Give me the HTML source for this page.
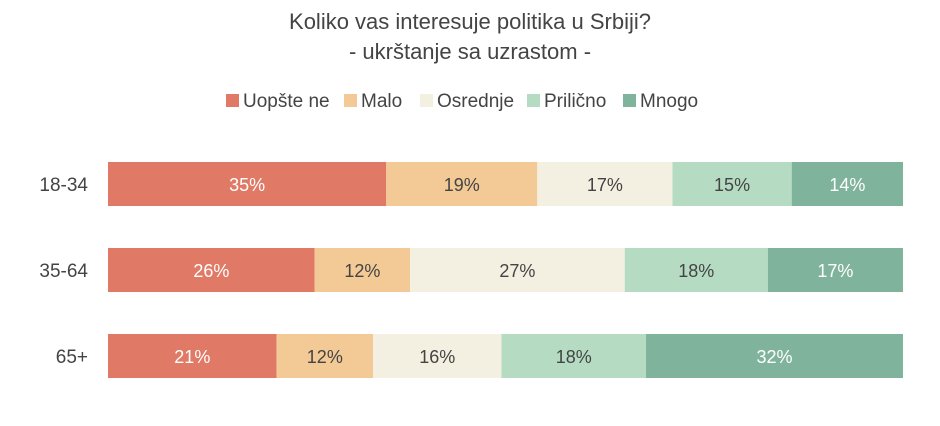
<!DOCTYPE html>
<html><head><meta charset="utf-8"><style>
body{margin:0;background:#fff;font-family:"Liberation Sans","DejaVu Sans",sans-serif;}
svg text{font-family:"Liberation Sans","DejaVu Sans",sans-serif;}
</style></head><body>
<svg id="chart" width="940" height="421" xmlns="http://www.w3.org/2000/svg">
<text x="470" y="29" text-anchor="middle" font-size="22" fill="#444">Koliko vas interesuje politika u Srbiji?</text>
<text x="470" y="59" text-anchor="middle" font-size="22" fill="#444">- ukrštanje sa uzrastom -</text>
<g id="legend"></g>
<g id="bars"></g>
</svg>
<script>
const categories=["18-34","35-64","65+"];
const seriesNames=["Uopšte ne","Malo","Osrednje","Priličnо".replace("о","o"),"Mnogo"];
const uopsteNe=[35,26,21];
const malo=[19,12,12];
const osrednje=[17,27,16];
const prilicno=[15,18,18];
const mnogo=[14,17,32];
const series=[uopsteNe,malo,osrednje,prilicno,mnogo];
const colors=["#e07a66","#f3ca96","#f4f0e1","#b5dcc3","#80b39c"];
const textColors=["#fff","#444","#444","#444","#fff"];
const NS="http://www.w3.org/2000/svg";
const x0=108,x1=903,rowY0=162,rowStep=86,barH=44;
function yOf(i){return rowY0+i*rowStep;}
const legend=document.getElementById('legend');
const legX=[226,344,420,527,623];
seriesNames.forEach((n,k)=>{
 const r=document.createElementNS(NS,'rect');
 r.setAttribute('x',legX[k]);r.setAttribute('y',94);r.setAttribute('width',13);r.setAttribute('height',13);r.setAttribute('fill',colors[k]);
 
 
 legend.appendChild(r);
 const t=document.createElementNS(NS,'text');
 t.setAttribute('x',legX[k]+17);t.setAttribute('y',107);t.setAttribute('font-size','19');t.setAttribute('fill','#444');
 t.textContent=n;
 
 
 legend.appendChild(t);
});
const bars=document.getElementById('bars');
categories.forEach((c,i)=>{
 const y=yOf(i);
 const lab=document.createElementNS(NS,'text');
 lab.setAttribute('x',88);lab.setAttribute('y',y+barH/2+7);lab.setAttribute('text-anchor','end');lab.setAttribute('font-size','19');lab.setAttribute('fill','#444');
 lab.textContent=c;
 
 
 bars.appendChild(lab);
 let total=0;series.forEach(s=>total+=s[i]);
 let acc=0;
 series.forEach((s,k)=>{
  const xa=x0+(x1-x0)*acc/total; acc+=s[i]; const xb=x0+(x1-x0)*acc/total;
  const r=document.createElementNS(NS,'rect');
  r.setAttribute('x',xa);r.setAttribute('y',y);r.setAttribute('width',xb-xa);r.setAttribute('height',barH);r.setAttribute('fill',colors[k]);
  
  
  bars.appendChild(r);
  const t=document.createElementNS(NS,'text');
  t.setAttribute('x',(xa+xb)/2);t.setAttribute('y',y+barH/2+7);t.setAttribute('text-anchor','middle');t.setAttribute('font-size','18');t.setAttribute('fill',textColors[k]);
  t.textContent=s[i]+'%';
  
  
  bars.appendChild(t);
 });
});
</script>
</body></html>
